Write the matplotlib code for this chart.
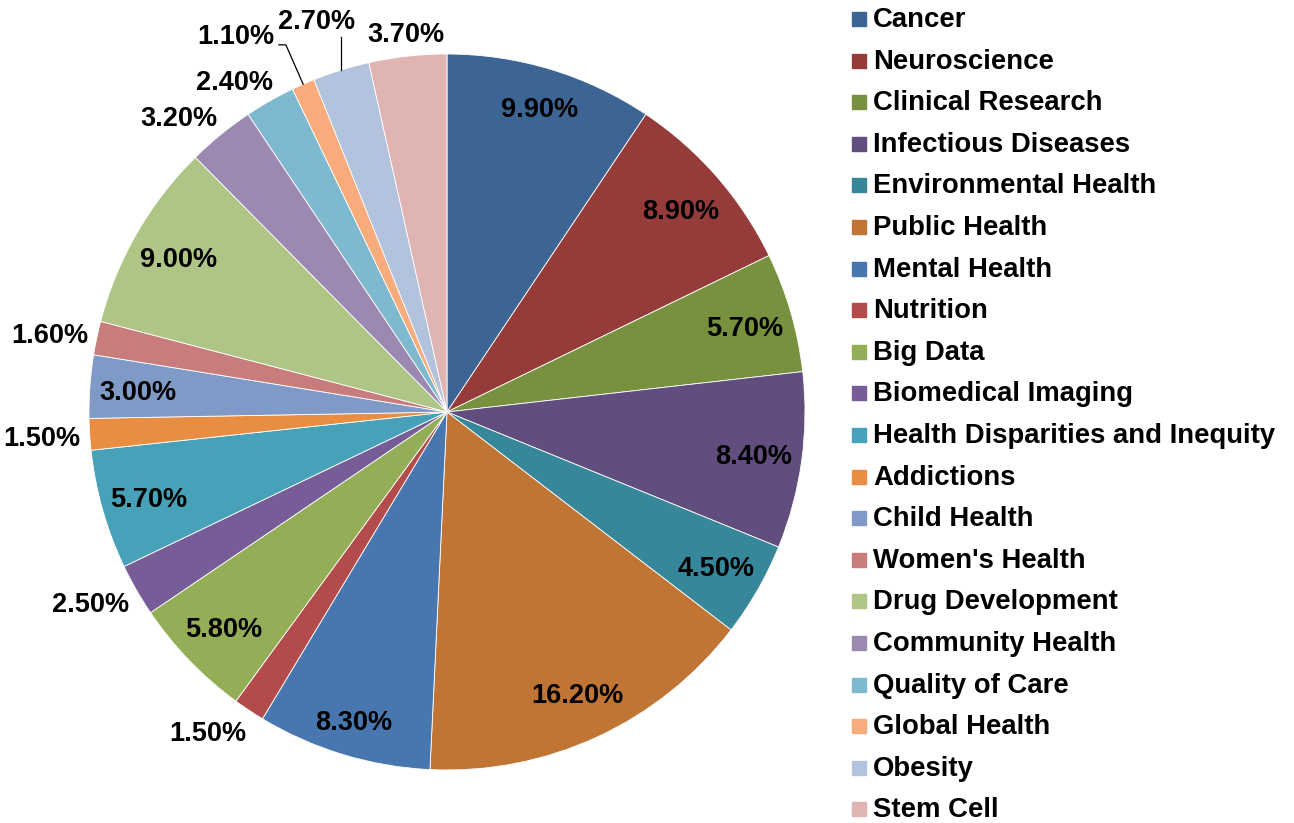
import numpy as np
import matplotlib
matplotlib.use('Agg')
import matplotlib.pyplot as plt
from matplotlib.patches import Rectangle

plt.rcParams['font.family'] = ['Liberation Sans', 'DejaVu Sans']

## data
topics = ['Cancer', 'Neuroscience', 'Clinical Research', 'Infectious Diseases',
          'Environmental Health', 'Public Health', 'Mental Health', 'Nutrition',
          'Big Data', 'Biomedical Imaging', 'Health Disparities and Inequity',
          'Addictions', 'Child Health', "Women's Health", 'Drug Development',
          'Community Health', 'Quality of Care', 'Global Health', 'Obesity', 'Stem Cell']
shares = [9.9, 8.9, 5.7, 8.4, 4.5, 16.2, 8.3, 1.5, 5.8, 2.5,
          5.7, 1.5, 3.0, 1.6, 9.0, 3.2, 2.4, 1.1, 2.7, 3.7]
colors = ['#3d6594', '#953c3b', '#77913f', '#614d7e', '#37879a', '#c07535',
          '#4877b0', '#b34b4a', '#93ae56', '#775d97', '#47a1b8', '#e88d41',
          '#7f9ac6', '#c87c7b', '#aec586', '#9b89b2', '#7fb9cf', '#f8ac7c',
          '#b4c3dd', '#dfb5b4']
# label placement: 'in' inside the slice, 'out' just outside, 'lead' with leader line
placement = ['in', 'in', 'in', 'in', 'in', 'in', 'in', 'out', 'in', 'out',
             'in', 'out', 'in', 'out', 'in', 'out', 'out', 'lead', 'lead', 'out']

W, H = 1294, 823
fig = plt.figure(figsize=(W/100, H/100), dpi=100)
cx, cy, R = 447, 412, 358
ax = fig.add_axes([(cx-R)/W, (H-cy-R)/H, 2*R/W, 2*R/H])

wedges, _ = ax.pie(shares, colors=colors, startangle=90, counterclock=False,
                   radius=1, wedgeprops=dict(edgecolor='white', linewidth=0.6))
ax.set_xlim(-1, 1)
ax.set_ylim(-1, 1)
ax.axis('off')

px = 1.0 / R   # one pixel in data units
kw = dict(fontsize=19.5, fontweight='bold', color='black')
renderer = fig.canvas.get_renderer()
in_r = {0: 0.89, 6: 0.9}   # a couple of inside labels sit further out

for i, w in enumerate(wedges):
    mid = np.deg2rad((w.theta1 + w.theta2) / 2)
    c, s = np.cos(mid), np.sin(mid)
    txt = '%.2f%%' % shares[i]
    if placement[i] == 'in':
        r = in_r.get(i, 0.865)
        ax.text(r*c, r*s, txt, ha='center', va='center_baseline', **kw)
    elif placement[i] == 'out':
        r = 1.04
        t = ax.text(r*c, r*s, txt, ha='center', va='center_baseline', **kw)
        bw = t.get_window_extent(renderer).width
        dx = -0.43*bw*min(1.0, max(0.0, (-c - 0.2)/0.35))
        dy = s*10
        t.set_position((r*c + dx*px, r*s + dy*px))
    else:
        ex, ey = c, s
        if i == 17:
            # elbow leader, label to the left
            r2 = 1.12
            bx, by = r2*c, r2*s
            ax.plot([ex, bx, bx - 7*px], [ey, by, by], color='black', lw=0.9,
                    clip_on=False)
            ax.text(bx - 12*px, by + 8*px, txt, ha='right', va='center', **kw)
        else:
            # straight vertical leader, label above and to the left
            top = ey + 33*px
            ax.plot([ex, ex], [ey, top], color='black', lw=0.9, clip_on=False)
            ax.text(ex - 24*px, top + 15*px, txt, ha='center', va='center', **kw)

## legend drawn by hand
lx, base0, step = 852, 27, 41.6
for i, name in enumerate(topics):
    b = base0 + i*step
    fig.patches.append(Rectangle((lx/W, 1 - (b - 1)/H), 14/W, 14/H,
                                 transform=fig.transFigure, color=colors[i]))
    fig.text((lx + 21)/W, 1 - b/H, name, ha='left', va='baseline',
             fontsize=19.8, fontweight='bold')

fig.savefig('out.png', dpi=100)
